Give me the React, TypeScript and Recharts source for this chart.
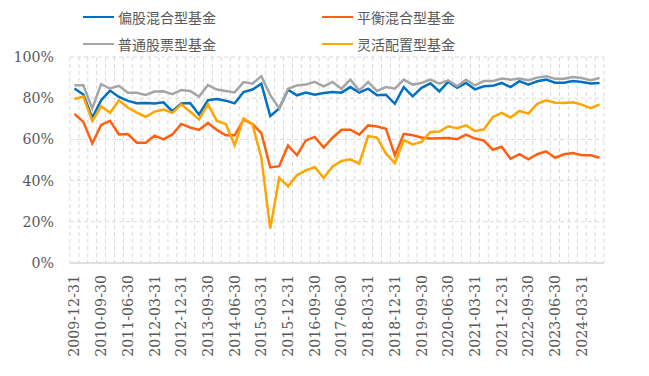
import { LineChart, Line, XAxis, YAxis, CartesianGrid } from 'recharts';

const dates = [
  '2009-12-31', '2010-03-31', '2010-06-30', '2010-09-30', '2010-12-31', '2011-03-31', '2011-06-30', '2011-09-30',
  '2011-12-31', '2012-03-31', '2012-06-30', '2012-09-30', '2012-12-31', '2013-03-31', '2013-06-30', '2013-09-30',
  '2013-12-31', '2014-03-31', '2014-06-30', '2014-09-30', '2014-12-31', '2015-03-31', '2015-06-30', '2015-09-30',
  '2015-12-31', '2016-03-31', '2016-06-30', '2016-09-30', '2016-12-31', '2017-03-31', '2017-06-30', '2017-09-30',
  '2017-12-31', '2018-03-31', '2018-06-30', '2018-09-30', '2018-12-31', '2019-03-31', '2019-06-30', '2019-09-30',
  '2019-12-31', '2020-03-31', '2020-06-30', '2020-09-30', '2020-12-31', '2021-03-31', '2021-06-30', '2021-09-30',
  '2021-12-31', '2022-03-31', '2022-06-30', '2022-09-30', '2022-12-31', '2023-03-31', '2023-06-30', '2023-09-30',
  '2023-12-31', '2024-03-31', '2024-06-30', '2024-09-30',
];

// 偏股混合型基金
const pianGu = [
  84.7, 81.8, 70.5, 79, 83.7, 80.6, 78.7, 77.6, 77.7, 77.4, 78, 73.7, 77.4, 77.7, 72.1, 79,
  79.6, 78.8, 77.5, 83, 84.2, 87, 71.3, 75, 84.1, 81.4, 82.7, 81.7, 82.5, 83, 82.7, 85.4,
  82.7, 84.6, 81.4, 81.7, 77.3, 85.4, 80.9, 85, 87.2, 83.3, 88, 85.1, 87.4, 84.3, 85.8, 86,
  87.4, 85.4, 88.3, 86.6, 88.2, 89, 87.5, 87.5, 88.3, 87.9, 87.1, 87.4,
];

// 平衡混合型基金
const pingHeng = [
  72.4, 68.5, 58, 67, 69, 62.4, 62.6, 58.4, 58.4, 61.8, 60, 62.4, 67.5, 65.8, 64.6, 68,
  64.6, 62, 62, 69.5, 67.5, 63, 46.4, 47, 57, 52.3, 59.5, 61.2, 56, 60.8, 64.7, 64.7,
  62.3, 66.8, 66.3, 65.2, 52.3, 62.7, 62, 60.9, 60.4, 60.6, 60.7, 60.1, 62.3, 60.4, 59.4, 55,
  56.4, 50.6, 52.8, 50.3, 52.8, 54.2, 51.1, 52.8, 53.4, 52.3, 52.3, 51.1,
];

// 普通股票型基金
const puTong = [
  86.3, 86.3, 75, 86.8, 84.7, 86, 82.7, 82.6, 81.6, 83.2, 83.4, 82, 84, 83.5, 80.8, 86.4,
  84.2, 83.5, 82.8, 87.8, 87, 90.7, 81.5, 75, 84.6, 86.2, 86.6, 87.9, 85.8, 87.9, 84.6, 89,
  83.8, 87.9, 83.5, 85.4, 84.6, 89, 86.6, 87.4, 89, 87.1, 88.7, 85.8, 89, 86.2, 88.3, 88.3,
  89.5, 89, 89.5, 88.7, 90, 90.6, 89.5, 89.5, 90.3, 89.8, 88.7, 89.8,
];

// 灵活配置型基金
const lingHuo = [
  79.6, 80.8, 69, 76.1, 72.9, 79, 75.5, 73, 71, 73.5, 74.5, 72.9, 77, 73.4, 69.7, 77,
  69, 67.5, 57.2, 70.2, 67.3, 51, 16.7, 41.4, 37.2, 42.6, 45, 46.6, 41.3, 46.9, 49.5, 50.3,
  48.2, 61.7, 60.8, 53.1, 48.5, 59.6, 57.6, 58.8, 63.6, 63.8, 66.4, 65.4, 66.8, 64.1, 64.8, 70.8,
  72.9, 70.6, 73.8, 72.5, 77.3, 79, 77.8, 77.7, 78, 76.9, 75.2, 77,
];

const yTicks = [0, 10, 20, 30, 40, 50, 60, 70, 80, 90, 100];

const series = [
  { key: 'pianGu', name: '偏股混合型基金', color: '#0070C0' },
  { key: 'pingHeng', name: '平衡混合型基金', color: '#FF6010' },
  { key: 'puTong', name: '普通股票型基金', color: '#A5A5A5' },
  { key: 'lingHuo', name: '灵活配置型基金', color: '#FFA500' },
];

const data = dates.map((d, i) => ({
  date: d,
  pianGu: pianGu[i],
  pingHeng: pingHeng[i],
  puTong: puTong[i],
  lingHuo: lingHuo[i],
}));

const W = 649;
const H = 376;
const textColor = '#595959';
const serif = "'DejaVu Serif', serif";

const DateTick = ({ x, y, payload }: any) => (
  <text
    x={x}
    y={y}
    transform={`rotate(-90 ${x} ${y})`}
    textAnchor="end"
    dominantBaseline="central"
    style={{ fill: textColor, fontSize: 14.2, fontFamily: serif }}
  >
    {payload.value}
  </text>
);

const PctTick = ({ x, y, payload }: any) => (
  <text
    x={x}
    y={y}
    textAnchor="end"
    dominantBaseline="central"
    style={{ fill: textColor, fontSize: 14.2, fontFamily: serif }}
  >
    {`${payload.value}%`}
  </text>
);

function LegendBox() {
  const cols = [83, 322];
  const rows = [17, 44];
  return (
    <>
      {series.map((s, i) => (
        <div
          key={s.key}
          style={{
            position: 'absolute',
            left: cols[i % 2],
            top: rows[Math.floor(i / 2)] - 10,
            height: 20,
            display: 'flex',
            alignItems: 'center',
            whiteSpace: 'nowrap',
          }}
        >
          <span style={{ display: 'inline-block', width: 31, height: 2.5, background: s.color }} />
          <span
            style={{
              marginLeft: 4,
              fontSize: 14,
              color: textColor,
              fontFamily: "'Noto Sans CJK SC', sans-serif",
            }}
          >
            {s.name}
          </span>
        </div>
      ))}
    </>
  );
}

export default function App() {
  const n = dates.length;
  return (
    <div style={{ position: 'absolute', left: 0, top: 0, width: W, height: H, background: '#fff' }}>
      <LegendBox />
      <LineChart width={W} height={H} data={data} margin={{ top: 57, right: 45, bottom: 8, left: 8 }}>
        <CartesianGrid
          stroke="#D9D9D9"
          strokeDasharray="4 3"
          verticalCoordinatesGenerator={({ offset }: any) =>
            Array.from({ length: n + 1 }, (_, k) => offset.left + (k * offset.width) / n)
          }
        />
        <XAxis
          dataKey="date"
          interval={2}
          padding={{ left: 534 / n / 2, right: 534 / n / 2 }}
          height={105}
          tickSize={0}
          tickMargin={12}
          tickLine={false}
          axisLine={{ stroke: '#D9D9D9', strokeWidth: 1.5 }}
          tick={<DateTick />}
        />
        <YAxis
          width={62}
          domain={[0, 100]}
          ticks={yTicks}
          tickSize={0}
          tickMargin={16}
          tickLine={false}
          axisLine={false}
          tick={<PctTick />}
        />
        {series.map((s) => (
          <Line
            key={s.key}
            type="linear"
            dataKey={s.key}
            name={s.name}
            stroke={s.color}
            strokeWidth={2.5}
            dot={false}
            isAnimationActive={false}
          />
        ))}
      </LineChart>
    </div>
  );
}
